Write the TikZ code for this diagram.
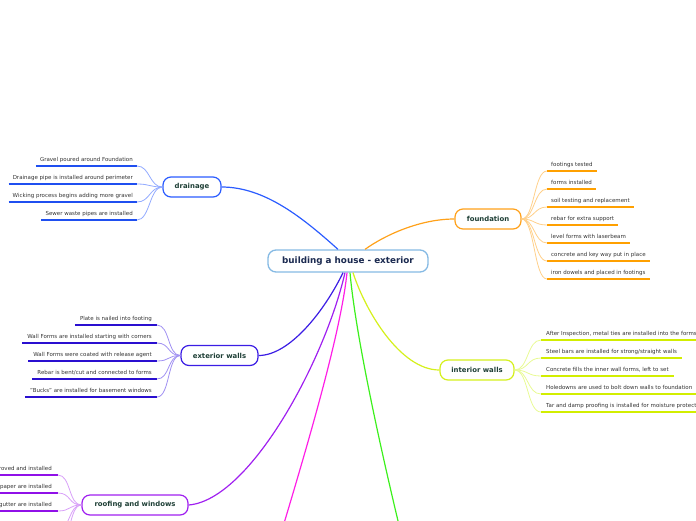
\documentclass[tikz,border=0pt]{standalone}
\usepackage{fontspec}
\setmainfont{DejaVu Sans}
\begin{document}
\begin{tikzpicture}[x=1pt,y=-1pt,
  central/.style={draw=cenB,line width=1.3pt,fill=white,rounded corners=8pt,
    minimum width=160pt,minimum height=22pt,inner sep=0pt,
    font=\fontsize{8.8}{10}\selectfont\bfseries,text=cenT},
  branch/.style={line width=1.2pt,fill=white,rounded corners=8pt,
    minimum height=20pt,inner sep=0pt,
    font=\fontsize{6.9}{8}\selectfont\bfseries,text=brT},
  leaf/.style={inner xsep=4pt,inner ysep=0pt,text height=4pt,text depth=4pt,
    font=\fontsize{5.5}{6}\selectfont,text=leafT},
  mainline/.style={line width=1.2pt},
  subline/.style={line width=0.8pt},
  ul/.style={line width=1.5pt}
]
\definecolor{cenB}{HTML}{86BAE4}
\definecolor{cenT}{HTML}{1B2A50}
\definecolor{brT}{HTML}{1E3F36}
\definecolor{leafT}{HTML}{333333}
\definecolor{drC}{HTML}{2B5CFF}
\definecolor{drU}{HTML}{1F4FF0}
\definecolor{drL}{HTML}{93ABFF}
\definecolor{foC}{HTML}{FFA11A}
\definecolor{foU}{HTML}{FFA000}
\definecolor{foL}{HTML}{FFD08A}
\definecolor{exC}{HTML}{3B1DE4}
\definecolor{exU}{HTML}{2A0FD0}
\definecolor{exL}{HTML}{A090F2}
\definecolor{inC}{HTML}{D5F01C}
\definecolor{inU}{HTML}{D2EE00}
\definecolor{inL}{HTML}{E8FA94}
\definecolor{roC}{HTML}{A020F0}
\definecolor{roU}{HTML}{9010E8}
\definecolor{roL}{HTML}{D8A0F8}
\definecolor{maC}{HTML}{FF1EE6}
\definecolor{grC}{HTML}{3CF01C}

\useasboundingbox (0,0) rectangle (696,520);
\clip (0,0) rectangle (696,520);

% central
\node[central] (c) at (348,261) {building a house - exterior};
\coordinate (cN1) at ([xshift=-10pt]c.north);
\coordinate (cN2) at ([xshift=17pt]c.north);
\coordinate (cS1) at ([xshift=-5pt]c.south);
\coordinate (cS2) at ([xshift=-3pt]c.south);
\coordinate (cS3) at ([xshift=-1pt]c.south);
\coordinate (cS4) at ([xshift=2pt]c.south);
\coordinate (cS5) at ([xshift=5pt]c.south);

% branches
\node[branch,draw=drC,minimum width=58pt] (dr) at (192,187) {drainage};
\node[branch,draw=foC,minimum width=66pt] (fo) at (488,219) {foundation};
\node[branch,draw=exC,minimum width=77pt] (ex) at (219.5,355.5) {exterior walls};
\node[branch,draw=inC,minimum width=74pt] (in) at (477,370) {interior walls};
\node[branch,draw=roC,minimum width=106pt] (ro) at (135,505) {roofing and windows};
\coordinate (maE) at (270,570);
\coordinate (grE) at (410,570);

% main connectors
\draw[mainline,drC] (dr.east) .. controls (265,187) and (303,218) .. (cN1);
\draw[mainline,foC] (cN2) .. controls (385,235) and (420,219) .. (fo.west);
\draw[mainline,exC] (cS1) .. controls (325,310) and (290,355.5) .. (ex.east);
\draw[mainline,roC] (cS2) .. controls (325,360) and (250,500) .. (ro.east);
\draw[mainline,maC] (cS3) .. controls (340,340) and (300,470) .. (maE);
\draw[mainline,grC] (cS4) .. controls (356,340) and (385,470) .. (grE);
\draw[mainline,inC] (cS5) .. controls (365,310) and (400,370) .. (in.west);

% drainage leaves
\foreach \i/\y/\t in {1/166/Gravel poured around Foundation,
                      2/184/Drainage pipe is installed around perimeter,
                      3/202/Wicking process begins adding more gravel,
                      4/220/Sewer waste pipes are installed}{
  \node[leaf,anchor=south east] (d\i) at (137,\y) {\t};
  \draw[ul,drU] (d\i.south west) -- (d\i.south east);
  \draw[subline,drL] (dr.west) .. controls +(-13,0) and +(13,0) .. (d\i.south east);
}

% foundation leaves
\foreach \i/\y/\t in {1/171/footings tested,
                      2/189/forms installed,
                      3/207/soil testing and replacement,
                      4/225/rebar for extra support,
                      5/243/level forms with laserbeam,
                      6/261/concrete and key way put in place,
                      7/279/iron dowels and placed in footings}{
  \node[leaf,anchor=south west] (f\i) at (547,\y) {\t};
  \draw[ul,foU] (f\i.south west) -- (f\i.south east);
  \draw[subline,foL] (fo.east) .. controls +(13,0) and +(-13,0) .. (f\i.south west);
}

% exterior walls leaves
\foreach \i/\y/\t in {1/325/{Plate is nailed into footing},
                      2/343/{Wall Forms are installed starting with corners},
                      3/361/{Wall Forms were coated with release agent},
                      4/379/{Rebar is bent/cut and connected to forms},
                      5/397/{"Bucks" are installed for basement windows}}{
  \node[leaf,anchor=south east,inner xsep=5pt] (e\i) at (157,\y) {\t};
  \draw[ul,exU] (e\i.south west) -- (e\i.south east);
  \draw[subline,exL] (ex.west) .. controls +(-13,0) and +(13,0) .. (e\i.south east);
}

% interior walls leaves
\foreach \i/\y/\t in {1/340/{After Inspection, metal ties are installed into the forms},
                      2/358/{Steel bars are installed for strong/straight walls},
                      3/376/{Concrete fills the inner wall forms, left to set},
                      4/394/{Holedowns are used to bolt down walls to foundation},
                      5/412/{Tar and damp proofing is installed for moisture protection}}{
  \node[leaf,anchor=south west,inner xsep=5pt] (i\i) at (541,\y) {\t};
  \draw[ul,inU] (i\i.south west) -- (i\i.south east);
  \draw[subline,inL] (in.east) .. controls +(14,0) and +(-14,0) .. (i\i.south west);
}

% roofing leaves (cut by the page edge)
\foreach \i/\y/\t in {1/475/roved and installed,
                      2/493/paper are installed,
                      3/511/gutter are installed}{
  \node[leaf,anchor=south east,inner xsep=6pt] (r\i) at (58,\y) {\t};
  \coordinate (r\i L) at (-10,\y);
  \draw[ul,roU] (r\i L) -- (r\i.south east);
  \draw[subline,roL] (ro.west) .. controls +(-13,0) and +(13,0) .. (r\i.south east);
}
\coordinate (r4) at (58,529);
\coordinate (r5) at (58,547);
\draw[subline,roL] (ro.west) .. controls +(-13,0) and +(13,0) .. (r4);
\draw[subline,roL] (ro.west) .. controls +(-13,0) and +(13,0) .. (r5);
\end{tikzpicture}
\end{document}
